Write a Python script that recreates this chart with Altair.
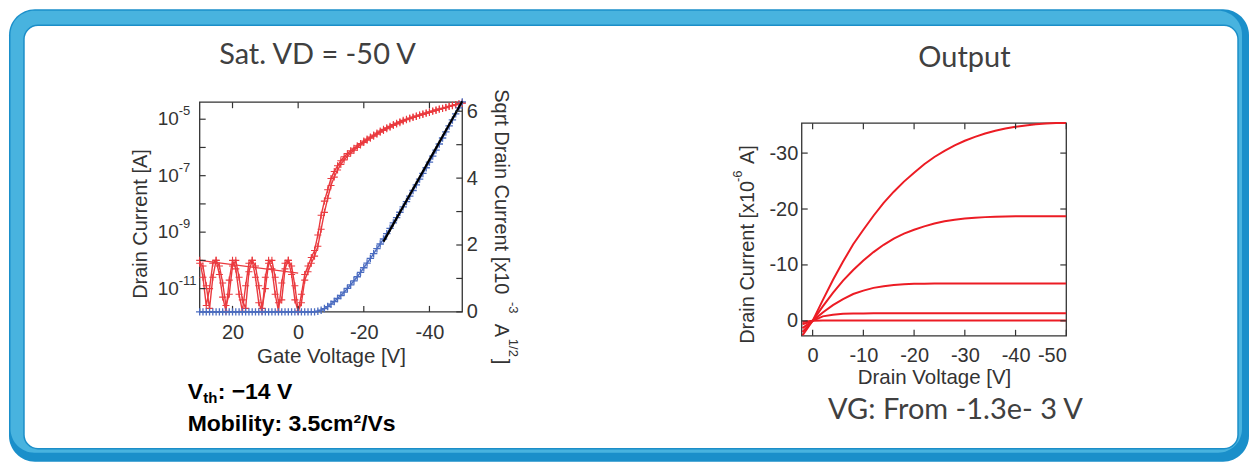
import altair as alt
import pandas as pd

# ---------------- data: transfer curve (left) ----------------
vg = list(range(30, -51, -1))
red_fwd_log = [-10.0, -10.6, -11.6, -11.0, -10.1, -10.0, -10.5, -11.3, -11.8, -10.7,
               -10.0, -10.3, -11.2, -11.8, -10.9, -10.1, -10.0, -10.6, -11.5, -11.8,
               -10.6, -10.0, -10.3, -11.2, -11.8, -10.8, -10.1, -10.0, -10.5, -11.4,
               -11.8,
               -11.2, -10.5, -10.2, -9.9, -9.65, -9.1, -8.4, -7.9, -7.5, -7.1,
               -6.85, -6.65, -6.47, -6.33, -6.22, -6.12, -6.03, -5.94, -5.86, -5.77,
               -5.7, -5.63, -5.56, -5.49, -5.42, -5.36, -5.3, -5.25, -5.19, -5.14,
               -5.09, -5.04, -5.0, -4.96, -4.92, -4.89, -4.85, -4.81, -4.78, -4.74,
               -4.71, -4.67, -4.64, -4.61, -4.58, -4.54, -4.51, -4.48, -4.45, -4.42]
red_rev_log = [-10.1, -10.2, -10.9, -11.7, -10.6, -10.0, -10.2, -10.8, -11.6, -11.2,
               -10.2, -10.0, -10.6, -11.4, -11.7, -10.4, -10.0, -10.2, -10.9, -11.7,
               -11.0, -10.1, -10.0, -10.6, -11.5, -11.4, -10.3, -10.0, -10.2, -10.9,
               -11.8,
               -11.5, -10.7, -10.4, -10.1, -9.85, -9.5, -8.9, -8.3, -7.8, -7.35,
               -7.05, -6.8, -6.6, -6.44, -6.31, -6.2, -6.1, -6.0, -5.91, -5.82,
               -5.74, -5.67, -5.6, -5.53, -5.46, -5.4, -5.34, -5.28, -5.22, -5.17,
               -5.12, -5.07, -5.02, -4.98, -4.94, -4.9, -4.86, -4.83, -4.79, -4.76,
               -4.72, -4.69, -4.65, -4.62, -4.59, -4.55, -4.52, -4.49, -4.46, -4.43]
blue_sqrt = [0.0, 0.0, 0.0, 0.0, 0.0, 0.0, 0.0, 0.0, 0.0, 0.0,
             0.0, 0.0, 0.0, 0.0, 0.0, 0.0, 0.0, 0.0, 0.0, 0.0,
             0.0, 0.0, 0.0, 0.0, 0.0, 0.0, 0.0, 0.0, 0.0, 0.0,
             0.0, 0.0, 0.0, 0.0, 0.0, 0.0,
             0.02, 0.05, 0.1, 0.16, 0.23, 0.31, 0.4, 0.49, 0.59, 0.7,
             0.81, 0.93, 1.05, 1.18, 1.32, 1.46, 1.6, 1.74, 1.89, 2.03,
             2.18, 2.34, 2.5, 2.66, 2.82, 2.98, 3.14, 3.3, 3.46, 3.63,
             3.8, 3.97, 4.14, 4.31, 4.48, 4.66, 4.84, 5.02, 5.2, 5.38,
             5.56, 5.74, 5.92, 6.1, 6.28]
fit_vg = [-26, -50]
fit_sqrt = [2.1, 6.3]
leak_vg = [30, 0]
leak_log = [-10.0, -10.45]

vg_ticks = [20, 0, -20, -40]
decade_ticks = [1e-5, 1e-6, 1e-7, 1e-8, 1e-9, 1e-10, 1e-11]
decade_labels = [1e-5, 1e-7, 1e-9, 1e-11]
decade_exps = ["-5", "-7", "-9", "-11"]
sqrt_ticks = [0, 1, 2, 3, 4, 5, 6]
sqrt_labels = [0, 2, 4, 6]

# ---------------- data: output curves (right) ----------------
vd = list(range(2, -51, -2))
out_c1 = [2.6, 0.0, -3.7, -7.3, -10.6, -13.7, -16.3, -18.8, -21.1, -23.1, -24.9, -26.5, -28.0,
          -29.3, -30.4, -31.4, -32.2, -32.9, -33.5, -34.0, -34.4, -34.7, -34.95, -35.15, -35.3,
          -35.4, -35.4]
out_c2 = [2.0, 0.0, -2.6, -5.0, -7.2, -9.1, -10.8, -12.3, -13.6, -14.7, -15.6, -16.3, -16.9,
          -17.4, -17.8, -18.1, -18.3, -18.45, -18.55, -18.6, -18.65, -18.7, -18.7, -18.7, -18.7,
          -18.7, -18.7]
out_c3 = [1.3, 0.0, -1.5, -2.8, -3.9, -4.8, -5.4, -5.9, -6.2, -6.4, -6.55, -6.62, -6.65,
          -6.68, -6.7, -6.7, -6.7, -6.7, -6.7, -6.7, -6.7, -6.7, -6.7, -6.7, -6.7, -6.7, -6.7]
out_c4 = [0.6, 0.0, -0.8, -1.1, -1.25, -1.3, -1.32, -1.34, -1.35, -1.36, -1.37, -1.37, -1.38,
          -1.38, -1.38, -1.38, -1.38, -1.38, -1.38, -1.38, -1.38, -1.38, -1.38, -1.38, -1.38,
          -1.38, -1.38]
out_c5 = [0.2, 0.0, -0.05, -0.05, -0.05, -0.05, -0.05, -0.05, -0.05, -0.05, -0.05, -0.05, -0.05,
          -0.05, -0.05, -0.05, -0.05, -0.05, -0.05, -0.05, -0.05, -0.05, -0.05, -0.05, -0.05,
          -0.05, -0.05]
vd_ticks = [0, -10, -20, -30, -40, -50]
id_ticks = [0, -10, -20, -30]

# ---------------- tables ----------------
red_df = pd.DataFrame({
    "vg": vg + vg,
    "I": [10 ** v for v in red_fwd_log] + [10 ** v for v in red_rev_log],
    "sweep": ["fwd"] * len(vg) + ["rev"] * len(vg),
})
leak_df = pd.DataFrame({"vg": leak_vg, "I": [10 ** v for v in leak_log]})
blue_df = pd.DataFrame({"vg": vg, "s": blue_sqrt})
fit_df = pd.DataFrame({"vg": fit_vg, "s": fit_sqrt})
vgt_df = pd.DataFrame({"vg": vg_ticks})
dec_df = pd.DataFrame({"I": decade_ticks})
declab_df = pd.DataFrame({"I": decade_labels, "e": decade_exps})
sqt_df = pd.DataFrame({"s": sqrt_ticks})
out_df = pd.DataFrame({
    "vd": vd * 5,
    "id": out_c1 + out_c2 + out_c3 + out_c4 + out_c5,
    "curve": sum([[c] * len(vd) for c in ["c1", "c2", "c3", "c4", "c5"]], []),
})
vdt_df = pd.DataFrame({"vd": vd_ticks})
idt_df = pd.DataFrame({"id": id_ticks})
one = pd.DataFrame({"k": [0]})

RED_L = "#ea3a3f"
BLUE = "#4b6cc0"
RED_R = "#ec1c24"
AX = "#333333"
PLUS = "M-1,0L1,0M0,-1L0,1"
LBL = "'' + datum.value"

W1, H1 = 263, 210
W2, H2 = 265, 234
TOP2 = 21


def vrect(x, x2, y, y2, **kw):
    return alt.Chart(one).mark_rect(**kw).encode(
        x=alt.value(x), x2=alt.value(x2), y=alt.value(y), y2=alt.value(y2))


def txt(s, x, y, size, font="Liberation Sans", weight="normal", color=AX,
        angle=0, align="left", baseline="alphabetic"):
    return alt.Chart(one).mark_text(
        text=s, font=font, fontSize=size, fontWeight=weight, color=color,
        angle=angle, align=align, baseline=baseline).encode(
        x=alt.value(x), y=alt.value(y))


# ---------------- left panel ----------------
xs = alt.Scale(domain=[30, -50], nice=False, zero=False)
ylog = alt.Scale(type="log", domain=[1.5e-12, 4.0e-5], nice=False)
ylin = alt.Scale(domain=[0, 6.27], nice=False, zero=False)
xaxis = alt.Axis(values=vg_ticks, labelExpr=LBL, labelPadding=11, zindex=2,
                 title="Gate Voltage [V]", titlePadding=4, titleFontSize=20.5)
X = alt.X("vg:Q", scale=xs, axis=xaxis)
YL = alt.Y("I:Q", scale=ylog, axis=None)
YS = alt.Y("s:Q", scale=ylin,
           axis=alt.Axis(orient="right", values=sqrt_labels, labelPadding=4, zindex=2,
                         title=None))

frame = [
    vrect(-191, 1051, -93, 360, fill="#1a8fca", cornerRadius=26),
    vrect(-189.5, 1044, -91.5, 351, fill="#48b3df", cornerRadius=24),
    vrect(-176, 1040, -77, 347, fill="white", stroke="#1b8ec8", strokeWidth=1.5,
          cornerRadius=14),
    vrect(0, W1, 0, H1, fill="transparent", stroke=AX, strokeWidth=1.3),
]

red_lines = alt.Chart(red_df).mark_line(color=RED_L, strokeWidth=1.4, clip=True).encode(
    x=X, y=YL, detail="sweep:N")
red_pts = alt.Chart(red_df).mark_point(shape=PLUS, filled=False, size=50, color=RED_L,
                                       strokeWidth=1.1, opacity=1).encode(
    x=X, y=YL)
leak = alt.Chart(leak_df).mark_line(color=RED_L, strokeWidth=1.4).encode(x=X, y=YL)
dec_ticks = alt.Chart(dec_df).mark_rule(color=AX, strokeWidth=1.2).encode(
    y=YL, x=alt.value(0), x2=alt.value(6))
lab10 = alt.Chart(declab_df).mark_text(text="10", font="Liberation Sans", fontSize=19,
                                       color=AX, align="right", baseline="middle").encode(
    y=YL, x=alt.value(-21))
labexp = alt.Chart(declab_df).mark_text(font="Liberation Sans", fontSize=13, color=AX,
                                        align="left", baseline="middle", dy=-8).encode(
    y=YL, x=alt.value(-21), text="e:N")
xt_bot = alt.Chart(vgt_df).mark_rule(color=AX, strokeWidth=1.2).encode(
    x=X, y=alt.value(H1), y2=alt.value(H1 - 6))
xt_top = alt.Chart(vgt_df).mark_rule(color=AX, strokeWidth=1.2).encode(
    x=X, y=alt.value(0), y2=alt.value(6))
log_group = alt.layer(red_lines, red_pts, leak, dec_ticks, lab10, labexp, xt_bot, xt_top)

blue_line = alt.Chart(blue_df).mark_line(color=BLUE, strokeWidth=1.4).encode(
    x=X, y=YS)
blue_pts = alt.Chart(blue_df).mark_point(shape=PLUS, filled=False, size=55, color=BLUE,
                                         strokeWidth=1.3, opacity=1).encode(
    x=X, y=YS)
fit_line = alt.Chart(fit_df).mark_line(color="black", strokeWidth=2.2).encode(x=X, y=YS)
sq_ticks = alt.Chart(sqt_df).mark_rule(color=AX, strokeWidth=1.2).encode(
    y=YS, x=alt.value(W1 - 6), x2=alt.value(W1))
lin_group = alt.layer(blue_line, blue_pts, fit_line, sq_ticks)

left_texts = [
    txt("Sat. VD = -50 V", 118, -38, 29, font="Lato", color="#404040", align="center"),
    txt("Drain Current [A]", -59, 122, 20, angle=270, align="center", baseline="middle"),
    txt("Sqrt Drain Current [x10", 302, -13, 20, angle=90, baseline="middle"),
    txt("-3", 314, 200, 13, angle=90, baseline="middle"),
    txt("A", 302, 222, 20, angle=90, baseline="middle"),
    txt("1/2", 314, 237, 13, angle=90, baseline="middle"),
    txt("]", 302, 257, 20, angle=90, baseline="middle"),
    txt("V", -12, 297, 23, weight="bold", color="black"),
    txt("th", 3.5, 301, 15, weight="bold", color="black"),
    txt(": \u221214 V", 18, 297, 23, weight="bold", color="black"),
    txt("Mobility: 3.5cm\u00b2/Vs", -12, 329, 23, weight="bold", color="black"),
]

left = alt.layer(*frame, log_group, lin_group, *left_texts).resolve_scale(
    y="independent").properties(width=W1, height=H1)

# ---------------- right panel ----------------
xs2 = alt.Scale(domain=[2.15, -50], nice=False, zero=False)
ys2 = alt.Scale(domain=[2.68, -39.1], nice=False, zero=False)
X2 = alt.X("vd:Q", scale=xs2,
           axis=alt.Axis(values=vd_ticks, labelExpr=LBL, labelPadding=10, zindex=2,
                         title="Drain Voltage [V]", titlePadding=2, titleFontSize=20.5))
Y2 = alt.Y("id:Q", scale=ys2,
           axis=alt.Axis(values=id_ticks, labelExpr=LBL, labelPadding=4, zindex=2,
                         title=None))

box2 = vrect(0, W2, TOP2, H2, fill="transparent", stroke=AX, strokeWidth=1.3)
out_lines = alt.Chart(out_df).mark_line(color=RED_R, strokeWidth=2, clip=True).encode(
    x=X2, y=Y2, detail="curve:N")
vt_bot = alt.Chart(vdt_df).mark_rule(color=AX, strokeWidth=1.2).encode(
    x=X2, y=alt.value(H2), y2=alt.value(H2 - 6))
vt_top = alt.Chart(vdt_df).mark_rule(color=AX, strokeWidth=1.2).encode(
    x=X2, y=alt.value(TOP2), y2=alt.value(TOP2 + 6))
it_left = alt.Chart(idt_df).mark_rule(color=AX, strokeWidth=1.2).encode(
    y=Y2, x=alt.value(0), x2=alt.value(6))
it_right = alt.Chart(idt_df).mark_rule(color=AX, strokeWidth=1.2).encode(
    y=Y2, x=alt.value(W2 - 6), x2=alt.value(W2))

right_texts = [
    txt("Output", 163, -35, 29, font="Lato", color="#404040", align="center"),
    txt("VG: From -1.3e- 3 V", 154, 317, 29, font="Lato", color="#404040", align="center"),
    txt("Drain Current [x10", -54, 242, 20, angle=270, baseline="middle"),
    txt("-6", -64, 80, 13, angle=270, baseline="middle"),
    txt("A]", -54, 62, 20, angle=270, baseline="middle"),
]

right = alt.layer(box2, out_lines, vt_bot, vt_top, it_left, it_right,
                  *right_texts).properties(width=W2, height=H2)

chart = alt.hconcat(left, right, spacing=340, bounds="flush").properties(
    padding=0
).configure_axis(
    domain=False, ticks=False, tickSize=0, grid=False,
    labelFont="Liberation Sans", labelFontSize=20, labelColor=AX,
    titleFont="Liberation Sans", titleFontSize=20, titleFontWeight="normal", titleColor=AX,
).configure_view(stroke="transparent")

chart.save("out.html", embed_options={"renderer": "svg", "actions": False})
